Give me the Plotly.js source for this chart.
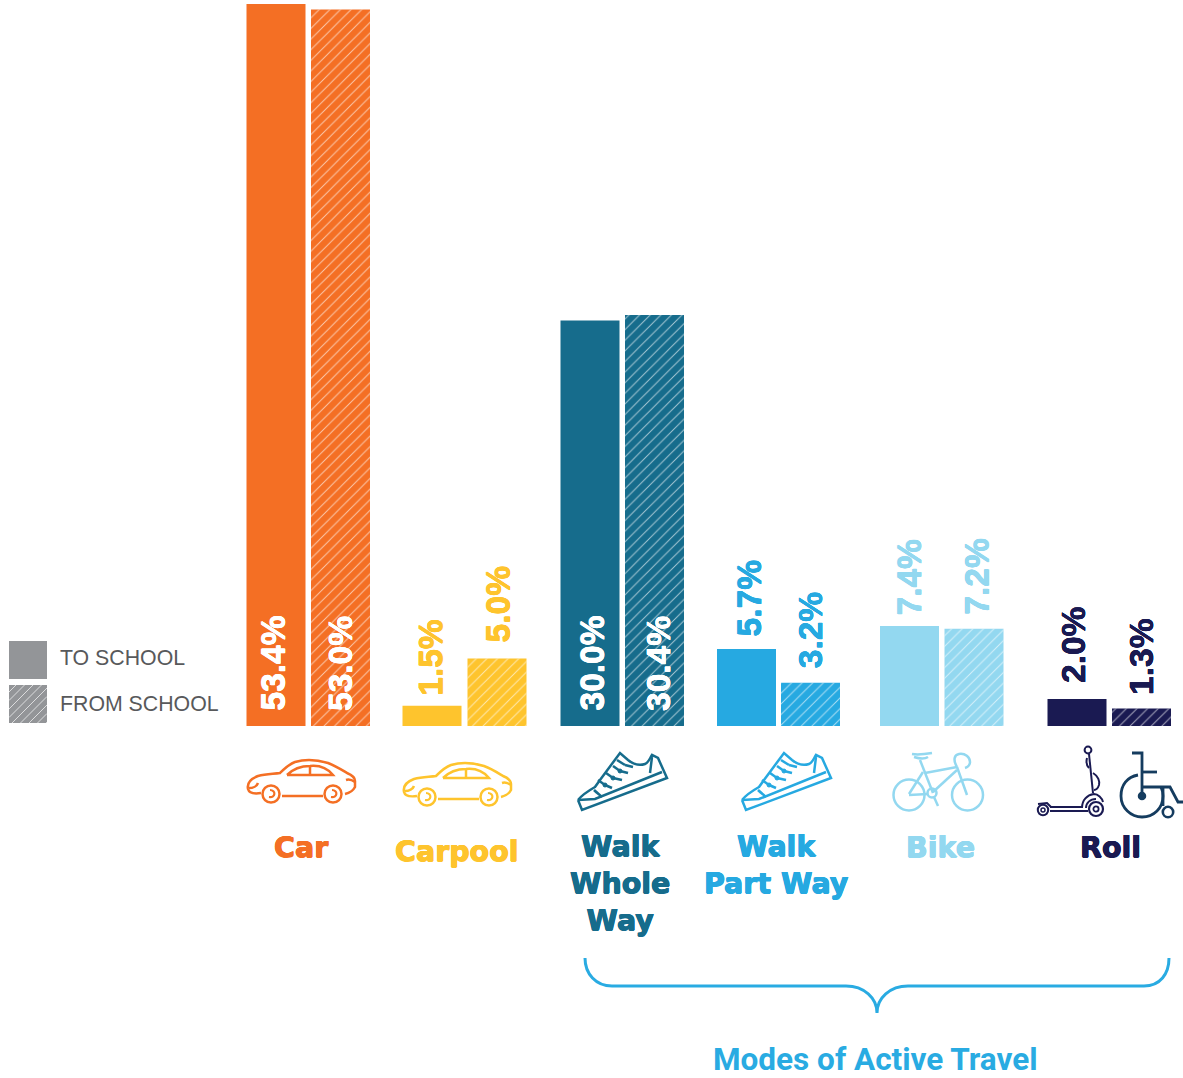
<!DOCTYPE html>
<html>
<head>
<meta charset="utf-8">
<script src="https://cdn.plot.ly/plotly-3.0.1.min.js"></script>
<style>html,body{margin:0;padding:0;background:#fff}</style>
</head>
<body>
<div id="chart" style="width:1183px;height:1078px"></div>
<script>
// Share of trips per travel mode, to school and from school (percent)
const categories = ['Car', 'Carpool', 'Walk<br>Whole<br>Way', 'Walk<br>Part Way', 'Bike', 'Roll'];
const toSchool = [53.4, 1.5, 30.0, 5.7, 7.4, 2.0];
const fromSchool = [53.0, 5.0, 30.4, 3.2, 7.2, 1.3];
const modeColors = ['#f46f24', '#fec42d', '#166c8c', '#26a9e1', '#93d8f0', '#1a1a52'];
const valueLabelColors = ['#ffffff', '#fec42d', '#ffffff', '#26a9e1', '#93d8f0', '#1a1a52'];
const seriesNames = ['TO SCHOOL', 'FROM SCHOOL'];
const bracketTitle = 'Modes of Active Travel';

// Page layout, in page pixels
const toSchoolCentres = [276, 432, 590, 746.5, 909.5, 1077];
const fromSchoolCentres = [340.5, 497, 654.5, 810.5, 974, 1141.5];
const categoryCentres = [301, 457, 620, 776, 940, 1110];
const categoryMiddles = [847, 851, 883, 865, 847, 847];
const BAR_WIDTH = 59;
const BASE_PX = 726;
const PX_PER_PCT = 13.52;
const py = px => (BASE_PX - px) / PX_PER_PCT;

// Thickens a glyph outline with a tight shadow in the text colour
const heavier = (color, r) => [[r, 0], [-r, 0], [0, r], [0, -r]]
  .map(o => `${o[0]}px ${o[1]}px 0 ${color}`).join(', ');

// Rewrites a path given in page pixels into axis coordinates, with an optional offset
function toPath(d, dx = 0, dy = 0) {
  const parts = d.trim().split(/\s+/);
  let isX = true;
  return parts.map(t => {
    if (/^[MLCQZ]$/.test(t)) { isX = true; return t; }
    const v = parseFloat(t);
    const out = isX ? v + dx : py(v + dy);
    isX = !isX;
    return out.toFixed(3);
  }).join(' ');
}
const pathShape = (d, color, w, dx, dy) => ({
  type: 'path', xref: 'x', yref: 'y', path: toPath(d, dx, dy),
  line: {color: color, width: w}, fillcolor: 'rgba(0,0,0,0)', layer: 'above'
});
const ring = (cx, cy, r, color, w, fill) => ({
  type: 'circle', xref: 'x', yref: 'y',
  x0: cx - r, x1: cx + r, y0: py(cy + r), y1: py(cy - r),
  line: {color: color, width: w}, fillcolor: fill || 'rgba(0,0,0,0)', layer: 'above'
});

// Car icon
const carOutline = [
  'M 261 793 C 254 794 249 793 248 789 C 247 784 250 779 258 776 C 266 774 273 774 280 773 C 285 768 289 764 295 762 C 305 759 318 760 328 763 C 336 766 342 770 347 773 C 352 775 355 777 355 781 L 355 787 C 353 791 349 793 345 794',
  'M 282 796 L 323 796',
  'M 287 775 C 292 770 300 766 310 766 C 320 765 328 769 333 775 L 287 775',
  'M 310 766 L 310 775',
  'M 249 788 C 253 788 257 786 258 783',
  'M 346 780 C 349 779 352 780 355 782'
];
function carIcon(color, dx, dy) {
  const shapes = carOutline.map(d => pathShape(d, color, 2.5, dx, dy));
  [[271, 794], [333, 794]].forEach(c => {
    shapes.push(ring(c[0] + dx, c[1] + dy, 8.5, color, 2.5));
    shapes.push(pathShape(`M ${c[0] - 1} ${c[1] - 4} C ${c[0] + 5} ${c[1] - 4} ${c[0] + 5} ${c[1] + 4} ${c[0] - 2} ${c[1] + 3}`, color, 2.2, dx, dy));
  });
  return shapes;
}

// Shoe icon
const shoeOutline = [
  'M 578 800 L 582 810 L 667 778 L 658 758 L 652 755 C 649 760 648 763 645 764 C 639 766 633 764 628 760 L 620 753 L 600 780 L 595 787 C 588 791 582 795 578 800',
  'M 578 800 L 595 799 L 662 772',
  'M 650 773 L 652 757',
  'M 594 790 C 597 793 600 795 602 797',
  'M 605 785 L 598 780', 'M 613 778 L 606 773', 'M 620 771 L 613 766', 'M 625 765 L 617 760',
  'M 605 785 L 612 788', 'M 613 778 L 622 780', 'M 620 771 L 628 773', 'M 625 765 L 633 767'
];
function shoeIcon(color, dx) {
  const shapes = shoeOutline.map(d => pathShape(d, color, 2.5, dx, 0));
  [[605, 785], [613, 778], [620, 771]].forEach(c => shapes.push(ring(c[0] + dx, c[1], 2, color, 1, color)));
  return shapes;
}

// Bicycle icon
const bikeOutline = [
  'M 920 760 L 933 793', 'M 925 773 L 957 767', 'M 957 770 L 933 792', 'M 909 795 L 928 794',
  'M 923 772 L 909 794', 'M 957 767 L 967 795',
  'M 957 767 C 953 760 954 755 959 754 C 965 753 970 757 970 762 C 970 765 968 767 965 768',
  'M 912 754 C 918 755 926 754 932 753 M 914 757 C 920 759 925 759 928 757',
  'M 934 797 L 938 806'
];
function bikeIcon(color) {
  const shapes = bikeOutline.map(d => pathShape(d, color, 2.5));
  shapes.push(ring(909, 795, 15.5, color, 2.5), ring(967.5, 795, 15.5, color, 2.5), ring(932, 793, 4.5, color, 2.5));
  return shapes;
}

// Kick scooter icon
const scooterOutline = [
  'M 1089 754 L 1093 793',
  'M 1087 758 C 1086 762 1087 766 1089 768',
  'M 1093 773 C 1098 776 1100 781 1099 785 C 1098 788 1096 790 1094 790',
  'M 1082 808 C 1082 800 1087 795 1094 794 C 1098 794 1102 798 1103 802',
  'M 1086 808 C 1086 803 1090 799 1096 799',
  'M 1050 807 L 1082 807', 'M 1050 811 L 1088 811',
  'M 1038 804 L 1047 803 L 1051 807'
];
function scooterIcon(color) {
  const shapes = scooterOutline.map(d => pathShape(d, color, 2));
  shapes.push(ring(1088, 750, 3.4, color, 2), ring(1096, 809, 7, color, 2.2), ring(1096, 809, 2.6, color, 1.8),
    ring(1043, 810, 5.2, color, 2), ring(1043, 810, 2, color, 1.5));
  return shapes;
}

// Wheelchair icon
const chairOutline = [
  'M 1132 753 L 1142 753 L 1142 796', 'M 1142 772 L 1157 772',
  'M 1138 775 C 1127 777 1121 785 1121 796 C 1121 808 1131 817 1142 817 C 1154 817 1163 808 1163 796 C 1163 792 1162 789 1161 787',
  'M 1142 787 L 1170 787 L 1178 802 L 1183 802', 'M 1163 787 L 1163 806'
];
function chairIcon(color) {
  const shapes = chairOutline.map(d => pathShape(d, color, 2.8));
  shapes.push(ring(1142, 796, 3.5, color, 1.5, color), ring(1168, 812, 5.2, color, 2.6));
  return shapes;
}

// Curly bracket over the active modes
const bracketPath = 'M 585 958 C 585 974 596 986 612 986 L 846 986 C 864 986 877 998 877 1013 C 877 998 890 986 908 986 L 1144 986 C 1160 986 1169 974 1169 958';

// Key swatches: a solid square and a hatched one
const keyGrey = '#939598';
const keySolid = {x: 9, y: 641, size: 38};
const keyHatched = {x: 9, y: 685, size: 38};
function keySquare(k) {
  return {type: 'rect', xref: 'x', yref: 'y', x0: k.x, x1: k.x + k.size, y0: py(k.y + k.size), y1: py(k.y),
    fillcolor: keyGrey, line: {width: 0}, layer: 'above'};
}
function keyHatch(k) {
  let d = '';
  for (let s = 7; s < 2 * k.size; s += 8.5) {
    const a = Math.min(s, k.size), b = Math.max(0, s - k.size);
    d += `M ${k.x + b} ${k.y + a} L ${k.x + a} ${k.y + b} `;
  }
  return pathShape(d, 'rgba(255,255,255,0.75)', 0.9);
}

const shapes = [
  ...carIcon(modeColors[0], 0, 0), ...carIcon(modeColors[1], 156, 3),
  ...shoeIcon(modeColors[2], 0), ...shoeIcon(modeColors[3], 164),
  ...bikeIcon(modeColors[4]), ...scooterIcon(modeColors[5]), ...chairIcon('#153c5f'),
  pathShape(bracketPath, '#29abe2', 3),
  keySquare(keySolid), keySquare(keyHatched), keyHatch(keyHatched)
];

// Value labels: tall bars carry them inside at the base, short bars just above the top
const insideMode = v => v >= 20;
const valueLabel = (v, i, centre, xNudge, yGap) => ({
  xref: 'x', yref: 'y', x: centre + xNudge,
  y: insideMode(v) ? 0 : v,
  yshift: insideMode(v) ? 14 : yGap,
  text: v.toFixed(1) + '%', textangle: -90, showarrow: false,
  xanchor: 'center', yanchor: 'bottom', borderpad: 0,
  font: {family: 'Liberation Sans, Arial, sans-serif', size: 33.5, weight: 700, color: valueLabelColors[i],
    shadow: heavier(valueLabelColors[i], 0.25)}
});
const toNudges = [-3, -1, 2, 3, 0, -3];
const fromNudges = [0, 1, 4, 0, 3, 0];
const toGaps = [0, 9, 0, 11, 9, 15];
const fromGaps = [0, 15, 0, 13, 13, 12];

const annotations = [
  ...toSchool.map((v, i) => valueLabel(v, i, toSchoolCentres[i], toNudges[i], toGaps[i])),
  ...fromSchool.map((v, i) => valueLabel(v, i, fromSchoolCentres[i], fromNudges[i], fromGaps[i])),
  ...categories.map((c, i) => ({
    xref: 'x', yref: 'y', x: categoryCentres[i], y: py(categoryMiddles[i]),
    text: '<b>' + c + '</b>', showarrow: false, xanchor: 'center', yanchor: 'middle', align: 'center',
    font: {family: 'DejaVu Sans, sans-serif', size: 28.5, color: modeColors[i], shadow: heavier(modeColors[i], 0.5)}
  })),
  ...seriesNames.map((n, i) => ({
    xref: 'x', yref: 'y', x: 58, y: py(657.5 + i * 46), text: n, showarrow: false,
    xanchor: 'left', yanchor: 'middle',
    font: {family: 'Liberation Sans, Arial, sans-serif', size: 21.3, color: '#58595b'}
  })),
  {
    xref: 'x', yref: 'y', x: 875, y: py(1059), text: '<b>' + bracketTitle + '</b>', showarrow: false,
    xanchor: 'center', yanchor: 'middle',
    font: {family: 'Roboto, sans-serif', size: 31.5, color: '#29abe2'}
  }
];

// The from-school bars are a solid fill with a white hatch laid over the same values
const traces = [
  {
    type: 'bar', name: seriesNames[0], x: toSchoolCentres, y: toSchool, width: BAR_WIDTH,
    marker: {color: modeColors, line: {width: 0}}, hoverinfo: 'skip'
  },
  {
    type: 'bar', name: seriesNames[1], x: fromSchoolCentres, y: fromSchool, width: BAR_WIDTH,
    marker: {color: modeColors, line: {width: 0}}, hoverinfo: 'skip'
  },
  {
    type: 'bar', name: seriesNames[1] + ' hatch', x: fromSchoolCentres, y: fromSchool, width: BAR_WIDTH,
    marker: {
      color: '#ffffff', line: {width: 0},
      pattern: {shape: '/', fillmode: 'replace', fgopacity: 0.62, size: 7.5, solidity: 0.13}
    },
    hoverinfo: 'skip'
  }
];

const layout = {
  width: 1183, height: 1078,
  margin: {l: 0, r: 0, t: 0, b: 0, pad: 0},
  paper_bgcolor: '#ffffff', plot_bgcolor: '#ffffff',
  barmode: 'overlay', showlegend: false,
  xaxis: {range: [0, 1183], visible: false, fixedrange: true},
  yaxis: {range: [py(1078), py(0)], visible: false, fixedrange: true},
  shapes: shapes, annotations: annotations
};

Plotly.newPlot('chart', traces, layout, {displayModeBar: false, staticPlot: true});
</script>
</body>
</html>
